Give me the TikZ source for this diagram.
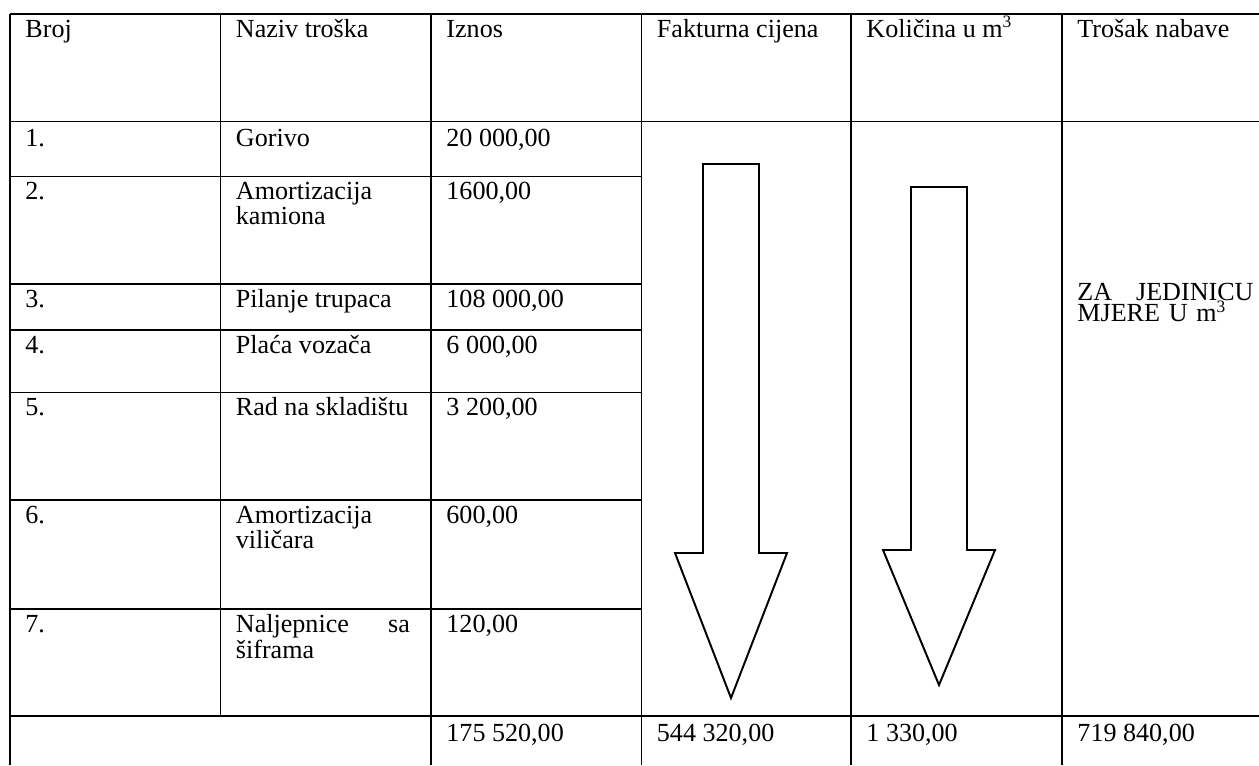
\documentclass[tikz,border=0pt]{standalone}
\usepackage{fontspec}
\setmainfont{Liberation Serif}
\def\fatarrow[#1](#2)(#3:#4:#5){\draw[#1] ({#2-28},#3) -- ({#2+28},#3) -- ({#2+28},#4) -- ({#2+56},#4) -- (#2,#5) -- ({#2-56},#4) -- ({#2-28},#4) -- cycle;}
\def\fullline#1#2#3{\leavevmode\hbox to #1{#2\hfill #3}}
\tikzset{
	rule/.style={line width=0.5pt},
	cell/.style={anchor=base west, inner sep=0pt, font=\fontsize{12}{10}\selectfont},
	twoline/.style={cell, text width=81pt, align=left}
}
\begin{document}
\begin{tikzpicture}[x=0.46pt, y=-0.46pt]
		%%%%% START %%%%%
		\useasboundingbox (0,0) rectangle (1259,765);
		
		% full width rules
		\draw[rule] (10,14) -- (1259,14);
		\draw[rule] (10,121.7) -- (1259,121.7);
		\draw[rule] (10,716) -- (1259,716);
		
		% rules of the first three columns
		\draw[rule] (10,176.7) -- (641.5,176.7);
		\draw[rule] (10,284) -- (641.5,284);
		\draw[rule] (10,330) -- (641.5,330);
		\draw[rule] (10,392.7) -- (641.5,392.7);
		\draw[rule] (10,500) -- (641.5,500);
		\draw[rule] (10,609) -- (641.5,609);
		
		% column lines
		\draw[rule] (10,14) -- (10,765);
		\draw[rule] (220.5,14) -- (220.5,716);
		\draw[rule] (431,14) -- (431,765);
		\draw[rule] (641.5,14) -- (641.5,765);
		\draw[rule] (851,14) -- (851,765);
		\draw[rule] (1062,14) -- (1062,765);
		
		% header
		\node[cell] (hbroj) at (25,37) {Broj};
		\node[cell] (hnaziv) at (235.5,37) {Naziv troška};
		\node[cell] (hiznos) at (446,37) {Iznos};
		\node[cell] (hfaktura) at (656.5,37) {Fakturna cijena};
		\node[cell] (hkolicina) at (866,37) {Količina u m\textsuperscript{3}};
		\node[cell] (htrosak) at (1077,37) {Trošak nabave};
		
		% rows
		\node[cell] (broj1) at (25,146) {1.};
		\node[cell] (naziv1) at (235.5,146) {Gorivo};
		\node[cell] (iznos1) at (446,146) {20 000,00};
		
		\node[cell] (broj2) at (25,199) {2.};
		\node[twoline] (naziv2) at (235.5,199) {Amortizacija\\kamiona};
		\node[cell] (iznos2) at (446,199) {1600,00};
		
		\node[cell] (broj3) at (25,307) {3.};
		\node[cell] (naziv3) at (235.5,307) {Pilanje trupaca};
		\node[cell] (iznos3) at (446,307) {108 000,00};
		
		\node[cell] (broj4) at (25,353) {4.};
		\node[cell] (naziv4) at (235.5,353) {Plaća vozača};
		\node[cell] (iznos4) at (446,353) {6 000,00};
		
		\node[cell] (broj5) at (25,415.5) {5.};
		\node[cell] (naziv5) at (235.5,415.5) {Rad na skladištu};
		\node[cell] (iznos5) at (446,415.5) {3 200,00};
		
		\node[cell] (broj6) at (25,523) {6.};
		\node[twoline] (naziv6) at (235.5,523) {Amortizacija\\viličara};
		\node[cell] (iznos6) at (446,523) {600,00};
		
		\node[cell] (broj7) at (25,632) {7.};
		\node[twoline] (naziv7) at (235.5,632) {\fullline{80pt}{Naljepnice}{sa}\\šiframa};
		\node[cell] (iznos7) at (446,632) {120,00};
		
		% merged cells
		\fatarrow[line width=0.9pt](731)(164:553:698);
		\fatarrow[line width=0.9pt](939)(187:550:685);
		\node[twoline] (jedinica) at (1077,300) {\fullline{81pt}{ZA}{JEDINICU}\\MJERE U m\textsuperscript{3}};
		
		% totals
		\node[cell] (ukiznos) at (446,741) {175 520,00};
		\node[cell] (ukfaktura) at (656.5,741) {544 320,00};
		\node[cell] (ukkolicina) at (866,741) {1 330,00};
		\node[cell] (uktrosak) at (1077,741) {719 840,00};
		
		%%%%% END %%%%%
	\end{tikzpicture}
\end{document}
